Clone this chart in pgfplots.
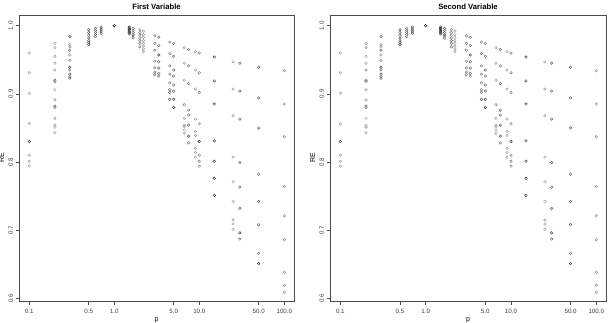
\documentclass[border=0pt]{standalone}
\usepackage{fontspec}
\setmainfont{Liberation Sans}
\usepackage{pgfplots}
\usepackage{pgfplotstable}
\pgfplotsset{compat=1.18}
\pgfplotstableread{
x y g
0.1 0.960 .8
0.1 0.931 .8
0.1 0.901 .8
0.1 0.856 .8
0.1 0.830 .3
0.1 0.810 .8
0.1 0.801 .8
0.1 0.794 .8
0.2 0.974 .8
0.2 0.968 .8
0.2 0.955 .8
0.2 0.945 .8
0.2 0.935 .7
0.2 0.920 .5
0.2 0.918 .6
0.2 0.906 .8
0.2 0.891 .7
0.2 0.882 .5
0.2 0.880 .6
0.2 0.864 .8
0.2 0.854 .8
0.2 0.851 .8
0.2 0.843 .8
0.3 0.984 .3
0.3 0.972 .7
0.3 0.969 .7
0.3 0.964 .5
0.3 0.957 .7
0.3 0.949 .6
0.3 0.939 .2
0.3 0.935 .5
0.3 0.929 .3
0.3 0.925 .4
0.3 0.923 .5
0.5 0.994 .4
0.5 0.990 .4
0.5 0.986 .4
0.5 0.982 .4
0.5 0.978 .4
0.5 0.975 .3
0.5 0.972 .3
0.6 0.996 .5
0.6 0.993 .5
0.6 0.990 .5
0.6 0.987 .5
0.6 0.984 .5
0.7 0.998 .3
0.7 0.995 .3
0.7 0.992 .3
0.7 0.989 .3
1.0 1.000 0
1.5 0.998 .1
1.5 0.996 .1
1.5 0.994 .1
1.5 0.992 .1
1.5 0.990 .2
1.5 0.988 .2
1.667 0.996 .5
1.667 0.993 .5
1.667 0.990 .5
1.667 0.987 .5
1.667 0.985 .5
1.667 0.982 .5
2.0 0.994 .6
2.0 0.990 .6
2.0 0.986 .6
2.0 0.982 .6
2.0 0.978 .5
2.0 0.974 .5
2.0 0.969 .5
2.2 0.992 .8
2.2 0.987 .8
2.2 0.983 .8
2.2 0.978 .8
2.2 0.974 .8
2.2 0.970 .8
2.2 0.966 .8
2.2 0.962 .8
3.0 0.985 .6
3.0 0.974 .6
3.0 0.964 .5
3.0 0.948 .6
3.0 0.938 .5
3.0 0.932 .5
3.0 0.928 .5
3.333 0.983 .5
3.333 0.971 .5
3.333 0.957 .3
3.333 0.947 .4
3.333 0.938 .4
3.333 0.930 .5
3.333 0.926 .5
4.5 0.976 .6
4.5 0.959 .6
4.5 0.941 .6
4.5 0.929 .6
4.5 0.916 .6
4.5 0.906 .5
4.5 0.902 .5
4.5 0.892 .3
5.0 0.974 .5
5.0 0.955 .5
5.0 0.935 .4
5.0 0.926 .5
5.0 0.913 .5
5.0 0.904 .4
5.0 0.892 .3
5.0 0.880 .2
6.667 0.968 .8
6.667 0.945 .8
6.667 0.920 .8
6.667 0.884 .6
6.667 0.864 .8
6.667 0.854 .8
6.667 0.852 .8
6.667 0.847 .8
6.667 0.842 .8
7.5 0.965 .5
7.5 0.941 .5
7.5 0.915 .5
7.5 0.876 .5
7.5 0.869 .5
7.5 0.854 .4
7.5 0.838 .3
7.5 0.828 .5
9.0 0.962 .8
9.0 0.935 .8
9.0 0.907 .8
9.0 0.863 .8
9.0 0.845 .8
9.0 0.839 .8
9.0 0.820 .8
9.0 0.814 .8
9.0 0.807 .8
10.0 0.960 .6
10.0 0.931 .6
10.0 0.902 .6
10.0 0.856 .6
10.0 0.830 .2
10.0 0.810 .6
10.0 0.801 .6
10.0 0.794 .6
15.0 0.954 .2
15.0 0.919 .2
15.0 0.885 .2
15.0 0.831 .2
15.0 0.801 .2
15.0 0.776 .1
15.0 0.751 .1
25.0 0.947 .8
25.0 0.907 .8
25.0 0.868 .8
25.0 0.807 .8
25.0 0.771 .8
25.0 0.742 .8
25.0 0.715 .8
25.0 0.709 .8
25.0 0.701 .8
30.0 0.945 .4
30.0 0.904 .4
30.0 0.863 .4
30.0 0.799 .4
30.0 0.763 .4
30.0 0.732 .4
30.0 0.696 .2
30.0 0.687 .4
50.0 0.939 .4
50.0 0.894 .4
50.0 0.850 .4
50.0 0.782 .5
50.0 0.742 .4
50.0 0.708 .4
50.0 0.666 .5
50.0 0.651 .2
100.0 0.934 .7
100.0 0.885 .7
100.0 0.837 .7
100.0 0.764 .7
100.0 0.721 .7
100.0 0.686 .7
100.0 0.638 .7
100.0 0.619 .7
100.0 0.609 .7
}\data

\pgfplotsset{
  rpanel/.style={
    scale only axis,
    height=286pt,
    xmin=0.0757, xmax=130,
    ymin=0.596, ymax=1.0157,
    axis line style={draw=black!70, line width=0.7pt},
    tick style={draw=black!70, line width=0.6pt},
    tick align=outside, major tick length=3.5pt,
    xtick pos=left, ytick pos=left,
    xminorticks=false, yminorticks=false,
    xtick={0.1,0.5,1,5,10,50,100},
    xticklabels={0.1,0.5,1.0,5.0,10.0,50.0,100.0},
    ytick={0.6,0.7,0.8,0.9,1.0},
    yticklabels={0.6,0.7,0.8,0.9,1.0},
    tick label style={font=\fontsize{6.2}{7}\selectfont, text=black!75},
    yticklabel style={rotate=90, anchor=south, inner sep=1pt, yshift=1.5pt},
    xticklabel style={inner sep=1pt, yshift=-3.5pt},
    title style={font=\bfseries\fontsize{7.7}{9}\selectfont, yshift=-4pt},
    label style={font=\fontsize{7}{8}\selectfont, inner sep=1pt},
    xlabel={p},
    ylabel={RE},
    ylabel style={yshift=2pt},
    xlabel style={yshift=-1.5pt},
    colormap={grs}{gray(0cm)=(0.12); gray(1cm)=(0.74)},
    point meta min=0, point meta max=1,
  }
}

\begin{document}
\begin{tikzpicture}
\useasboundingbox (0pt,0pt) rectangle (611pt,322pt);
\clip (0pt,0pt) rectangle (611pt,322pt);
\begin{semilogxaxis}[rpanel, width=275pt, at={(19pt,21pt)}, anchor=south west, title={First Variable}]
\addplot[scatter, only marks, mark=o, mark size=1.3pt, line width=0.45pt,
  scatter/use mapped color={draw=mapped color, fill=none},
  point meta=\thisrow{g}] table[x=x, y=y] {\data};
\end{semilogxaxis}
\begin{semilogxaxis}[rpanel, width=276pt, at={(330pt,21pt)}, anchor=south west, title={Second Variable}]
\addplot[scatter, only marks, mark=o, mark size=1.3pt, line width=0.45pt,
  scatter/use mapped color={draw=mapped color, fill=none},
  point meta=\thisrow{g}] table[x=x, y=y] {\data};
\end{semilogxaxis}
\end{tikzpicture}
\end{document}
